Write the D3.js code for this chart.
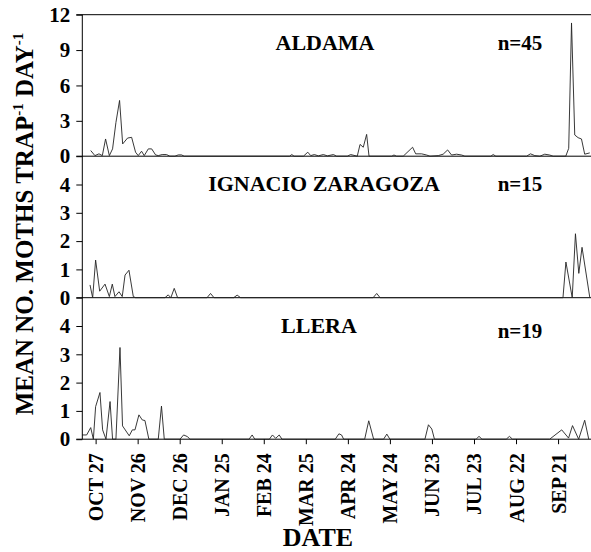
<!DOCTYPE html>
<html>
<head>
<meta charset="utf-8">
<script src="https://cdn.jsdelivr.net/npm/d3@7"></script>
<style>
  body { margin: 0; background: #fff; }
  svg { display: block; }
  text { font-family: "Liberation Serif", "Times New Roman", serif; font-weight: bold; fill: #000; }
</style>
</head>
<body>
<svg width="591" height="552"></svg>
<script>
// days counted from Oct 27, value = mean moths per trap per day
var aldama = [[-3.5,0.48],[-0.5,0.05],[2.4,0.2],[4.8,0.05],[7.1,1.46],[9.8,0.05],[12.1,0.62],[14.5,2.86],
  [17.1,4.73],[19.3,1.04],[22.8,1.54],[25.7,1.6],[28.5,0.34],[30.4,0.05],[32.8,0.42],[34.7,0.05],[37.6,0.62],
  [40,0.62],[42.8,0.11],[44.7,0.05],[47.5,0.14],[50.6,0.14],[53,0],[56.6,0],[59,0.11],[61.3,0.11],[63.2,0],
  [138.3,0],[140,0.14],[141.6,0],[148.3,0],[151.4,0.34],[153.5,0.05],[156.1,0.14],[158.9,0.03],[162.5,0.14],
  [165.4,0.03],[169.7,0.14],[172,0],[179.6,0],[182,0.14],[185.1,0.05],[186.7,0],[188.7,1.0],[191,0.76],
  [193.4,1.85],[195.1,0],[211.3,0],[212.9,0.1],[214.8,0],[219.5,0],[226.2,0.76],[228.4,0.2],[232.6,0.2],
  [236.2,0.1],[238.6,0],[244.5,0.05],[248,0.17],[251.2,0.53],[254,0.1],[257.6,0.17],[261.2,0.1],[263.5,0],
  [282,0],[283.7,0.14],[285.6,0],[307.5,0],[310.3,0.2],[313.4,0.05],[317,0],[320.5,0.17],[324,0.1],[326.5,0],
  [335.5,0],[337.6,0.67],[339.6,11.3],[341.9,1.8],[344.3,1.57],[346.7,1.46],[349,0.17],[352.6,0.28]];

var ignacio = [[-4,0.45],[-2.1,0],[0,1.33],[2.9,0.23],[6.7,0.48],[9.8,0.04],[11.9,0.48],[13.8,0.04],
  [16.7,0.21],[19,0.04],[21,0.8],[23.8,0.97],[26.9,0.04],[28.5,0],[49.5,0],[51.8,0.1],[53.7,0],[56.1,0.33],
  [58.5,0],[79.5,0],[82,0.15],[84.5,0],[98.5,0],[101,0.09],[103.5,0],[198,0],[200.6,0.15],[203,0],
  [333.5,0],[335.6,1.26],[340.1,0],[342.4,2.26],[344.8,0.86],[347.1,1.78],[352.6,0.02]];

var llera = [[-9.5,0.15],[-6.4,0.15],[-3.5,0.41],[-1.6,0],[0,1.15],[3.1,1.65],[5,0.33],[7.4,0],[10.3,1.33],
  [12.1,0],[14.5,0],[17.4,3.24],[19.2,0.47],[24,0.12],[26.2,0.33],[28.1,0.33],[30.9,0.86],[33.3,0.68],
  [35.2,0.66],[38,0],[44.7,0],[47,1.17],[49,0],[60.2,0],[62.8,0.15],[65.6,0.09],[67.3,0],[109.5,0],
  [111.7,0.15],[113.6,0],[124,0],[126.2,0.15],[128.5,0.03],[131,0.15],[133,0],[171,0],[173.6,0.19],
  [175.5,0.15],[177,0],[192,0],[194.9,0.65],[198.4,0],[205.5,0],[207.8,0.18],[210,0],[235,0],[237.5,0.51],
  [239.9,0.36],[241.8,0],[271.5,0],[273.6,0.1],[275.7,0],[293,0],[295.3,0.1],[297.5,0],[324,0],[332.6,0.33],
  [337.5,0.04],[340.3,0.48],[344.7,0],[349,0.67],[351.9,0]];

var tickDays = [0, 30, 60, 90, 120, 150, 180, 210, 240, 270, 300, 330];
var tickLabels = ["OCT 27", "NOV 26", "DEC 26", "JAN 25", "FEB 24", "MAR 25",
  "APR 24", "MAY 24", "JUN 23", "JUL 23", "AUG 22", "SEP 21"];

var panels = [
  { name: "ALDAMA", n: "n=45", data: aldama, max: 12, ticks: [0, 3, 6, 9, 12], nameX: 325, nDy: 0 },
  { name: "IGNACIO ZARAGOZA", n: "n=15", data: ignacio, max: 5, ticks: [0, 1, 2, 3, 4], nameX: 324, nDy: 0 },
  { name: "LLERA", n: "n=19", data: llera, max: 5, ticks: [0, 1, 2, 3, 4], nameX: 319, nDy: 5 }
];

var svg = d3.select("svg"),
  plotLeft = 82.3, plotRight = 591, plotTop = 14.7, panelH = 141.5;

var x = d3.scaleLinear().domain([-9.5, 353.5]).range([plotLeft, plotRight]);

panels.forEach(function(p, i) {
  var y0 = plotTop + i * panelH;
  var y = d3.scaleLinear().domain([0, p.max]).range([y0 + panelH, y0]);
  var g = svg.append("g");

  var yAxis = g.append("g")
    .attr("transform", "translate(" + plotLeft + ",0)")
    .call(d3.axisLeft(y).tickValues(p.ticks).tickFormat(d3.format("d"))
      .tickSize(6).tickPadding(6).tickSizeOuter(0));
  yAxis.select(".domain").remove();
  yAxis.selectAll("line").attr("stroke", "#000");
  yAxis.selectAll("text").attr("font-size", 21).attr("font-family", null).attr("fill", "#000");

  // baseline of each panel
  g.append("line")
    .attr("x1", plotLeft - 6).attr("x2", plotRight)
    .attr("y1", y(0)).attr("y2", y(0))
    .attr("stroke", "#000").attr("stroke-width", 1);

  var line = d3.line()
    .x(function(d) { return x(d[0]); })
    .y(function(d) { return y(d[1]); });

  g.append("path")
    .datum(p.data)
    .attr("d", line)
    .attr("fill", "none")
    .attr("stroke", "#222")
    .attr("stroke-width", 0.9);

  g.append("text")
    .attr("x", p.nameX).attr("y", y0 + 35)
    .attr("text-anchor", "middle")
    .attr("font-size", 22)
    .text(p.name);

  g.append("text")
    .attr("x", 520).attr("y", y0 + 35 + p.nDy)
    .attr("text-anchor", "middle")
    .attr("font-size", 21)
    .text(p.n);
});

// frame top and left axis
svg.append("line")
  .attr("x1", plotLeft - 6).attr("x2", plotRight).attr("y1", plotTop).attr("y2", plotTop)
  .attr("stroke", "#000");
svg.append("line")
  .attr("x1", plotLeft).attr("x2", plotLeft).attr("y1", plotTop).attr("y2", plotTop + 3 * panelH)
  .attr("stroke", "#000");

// date axis
var xAxis = svg.append("g")
  .attr("transform", "translate(0," + (plotTop + 3 * panelH) + ")")
  .call(d3.axisBottom(x).tickValues(tickDays)
    .tickFormat(function(d, i) { return tickLabels[i]; })
    .tickSize(5).tickSizeOuter(0));
xAxis.select(".domain").remove();
xAxis.selectAll("line").attr("stroke", "#000");
xAxis.selectAll("text")
  .attr("font-size", 20).attr("font-family", null).attr("fill", "#000")
  .attr("text-anchor", "end")
  .attr("transform", "rotate(-90)")
  .attr("x", -14).attr("y", 0).attr("dy", "0.35em");

svg.append("text")
  .attr("x", 318).attr("y", 546)
  .attr("text-anchor", "middle")
  .attr("font-size", 26)
  .text("DATE");

// y title with superscripts
var yt = svg.append("text")
  .attr("transform", "translate(33,224) rotate(-90)")
  .attr("text-anchor", "middle")
  .attr("font-size", 25);
yt.append("tspan").text("MEAN NO. MOTHS TRAP");
yt.append("tspan").attr("font-size", 15).attr("dy", -10).text("-1");
yt.append("tspan").attr("dy", 10).text(" DAY");
yt.append("tspan").attr("font-size", 15).attr("dy", -10).text("-1");
</script>
</body>
</html>
